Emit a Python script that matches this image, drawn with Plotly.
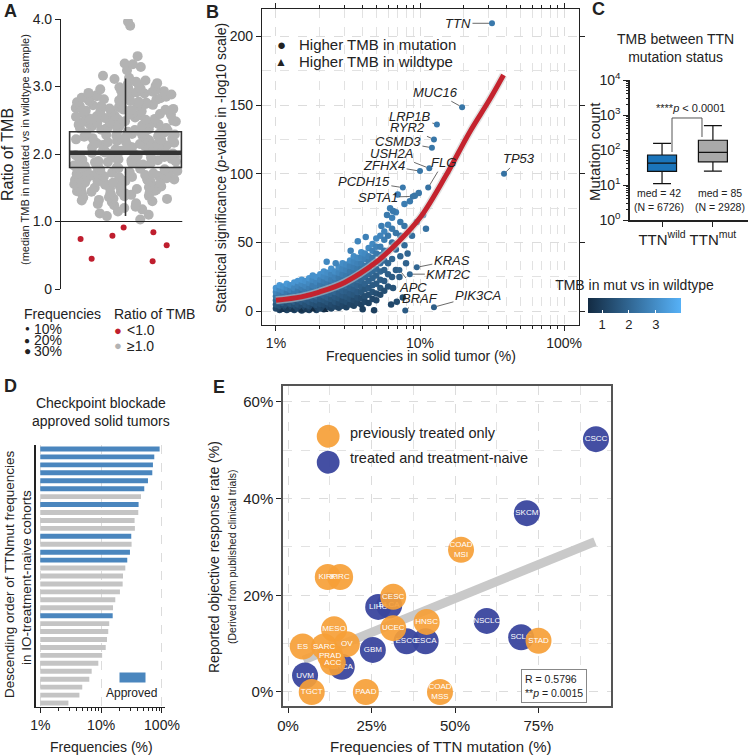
import numpy as np
import plotly.graph_objects as go

W, H = 754, 755
FONT = "Liberation Sans, Arial, sans-serif"
INK = "#222222"


def px(x):
    return x / W


def py(y):
    return 1 - y / H


# ---------------- Panel A data ----------------
a_gray_ratio = [
    1.03, 1.08, 1.10, 1.12, 1.15, 1.18, 1.20, 1.22, 1.24, 1.26, 1.27, 1.29,
    1.30, 1.31, 1.32, 1.335, 1.34, 1.355, 1.36, 1.375, 1.38, 1.395,
    1.40, 1.407, 1.415, 1.42, 1.428, 1.436, 1.44, 1.449, 1.455, 1.463, 1.47, 1.482, 1.491,
    1.501, 1.507, 1.514, 1.52, 1.527, 1.533, 1.541, 1.546, 1.553, 1.56, 1.566, 1.574, 1.58, 1.587, 1.594,
    1.602, 1.609, 1.615, 1.622, 1.628, 1.636, 1.641, 1.648, 1.655, 1.661, 1.669, 1.674, 1.682, 1.689, 1.695,
    1.703, 1.708, 1.716, 1.721, 1.729, 1.734, 1.742, 1.749, 1.754, 1.762, 1.767, 1.775, 1.781, 1.788, 1.796,
    1.804, 1.81, 1.817, 1.823, 1.83, 1.836, 1.843, 1.85, 1.856, 1.863, 1.869, 1.876, 1.882, 1.889, 1.897,
    1.902, 1.909, 1.915, 1.922, 1.928, 1.935, 1.941, 1.948, 1.955, 1.961, 1.968, 1.974, 1.981, 1.987, 1.994,
    2.003, 2.008, 2.016, 2.021, 2.029, 2.034, 2.042, 2.047, 2.055, 2.06, 2.068, 2.073, 2.081, 2.088, 2.095,
    2.101, 2.107, 2.114, 2.12, 2.127, 2.133, 2.14, 2.147, 2.153, 2.16, 2.166, 2.173, 2.18, 2.186, 2.193,
    2.204, 2.209, 2.217, 2.222, 2.23, 2.235, 2.243, 2.248, 2.256, 2.262, 2.269, 2.275, 2.282, 2.288, 2.296,
    2.302, 2.309, 2.315, 2.321, 2.328, 2.334, 2.341, 2.348, 2.354, 2.361, 2.367, 2.374, 2.38, 2.387, 2.393,
    2.403, 2.408, 2.416, 2.421, 2.429, 2.435, 2.442, 2.447, 2.455, 2.461, 2.468, 2.474, 2.481, 2.487, 2.495,
    2.501, 2.508, 2.514, 2.52, 2.527, 2.534, 2.54, 2.547, 2.553, 2.56, 2.567, 2.573, 2.58, 2.586, 2.593,
    2.603, 2.609, 2.616, 2.622, 2.629, 2.635, 2.642, 2.648, 2.655, 2.661, 2.668, 2.675, 2.681, 2.688, 2.694,
    2.702, 2.708, 2.715, 2.721, 2.728, 2.735, 2.741, 2.748, 2.754, 2.761, 2.767, 2.774, 2.781, 2.787, 2.794,
    2.803, 2.81, 2.818, 2.825, 2.833, 2.84, 2.848, 2.856, 2.864, 2.872, 2.881, 2.889, 2.897,
    2.905, 2.913, 2.922, 2.931, 2.94, 2.949, 2.958, 2.967, 2.978, 2.99,
    3.005, 3.02, 3.035, 3.05, 3.07, 3.09, 3.11, 3.13, 3.16,
    3.24, 3.29, 3.33, 3.34, 3.45, 3.90, 3.96,
]
a_red_ratio = [0.74, 0.79, 0.65, 0.45, 0.41, 0.91, 0.84]
a_q1, a_median, a_q3 = 1.80, 2.02, 2.33
a_lowerfence, a_upperfence = 1.08, 3.12
a_threshold = 1.0
a_tickvals = [0, 1, 2, 3, 4]
a_ticktext = ["0", "1.0", "2.0", "3.0", "4.0"]

# ---------------- Panel B data ----------------
b_col_freq = [1.0, 1.06, 1.12, 1.19, 1.26, 1.34, 1.42, 1.51, 1.6, 1.7, 1.8, 1.91, 2.03, 2.15, 2.28,
              2.42, 2.57, 2.73, 2.9, 3.08, 3.27, 3.47, 3.68, 3.91, 4.15, 4.4, 4.68, 4.97, 5.3, 5.65,
              6.0, 6.4, 6.8, 7.3, 7.8]
b_col_sig = [
    [2, 5, 8, 11, 14, 17],
    [1, 4, 7, 10, 13, 16, 19],
    [2.5, 6, 9, 12, 15, 18],
    [1, 4, 7.5, 10.5, 13.5, 17, 20],
    [2, 5.5, 9, 12, 15.5, 19],
    [1, 4, 7, 10.5, 14, 17, 21],
    [2, 5, 8.5, 12, 15, 18.5, 22],
    [0.5, 3.5, 7, 10, 13.5, 17, 20, 23],
    [2, 5, 8.5, 12, 15, 18.5, 22],
    [1, 4, 7, 10.5, 14, 17, 20.5, 24],
    [2.5, 6, 9, 12.5, 16, 19, 23, 26],
    [1, 4.5, 8, 11, 14.5, 18, 21.5, 25],
    [2, 5.5, 9, 12.5, 16, 19.5, 23, 27],
    [1.5, 5, 8, 11.5, 15, 18.5, 22, 25.5, 29],
    [3, 6.5, 10, 13.5, 17, 20.5, 24, 28],
    [2, 5, 9, 12.5, 16, 19.5, 23, 27, 31],
    [3.5, 7, 10.5, 14, 18, 21.5, 25, 29],
    [2.5, 6, 9.5, 13, 17, 20.5, 24.5, 28, 32],
    [4, 8, 11.5, 15, 19, 23, 27, 31, 35],
    [3, 7, 10.5, 14.5, 18.5, 22, 26, 30, 34],
    [5, 9, 13, 17, 21, 25, 29, 33, 37],
    [4, 8, 12, 16, 20, 24, 28, 32, 36, 40],
    [6, 10, 14, 18.5, 23, 27, 31, 35, 39],
    [5, 9.5, 14, 18, 22, 26.5, 31, 35, 39, 43],
    [7, 11, 16, 20, 25, 29, 33, 38, 42],
    [6, 12, 17, 22, 27, 31, 36, 40, 46],
    [9, 14, 19, 24, 29, 34, 39, 44, 49],
    [8, 13, 20, 26, 31, 36, 42, 47, 53],
    [12, 17, 23, 29, 35, 41, 47, 55],
    [15, 22, 30, 37, 44, 52, 58],
    [18, 27, 35, 44, 55, 63],
    [25, 38, 50, 60, 68],
    [30, 45, 57, 72],
    [40, 55, 65],
    [48, 62, 78],
]
b_col_ratio = [
    [1.2, 1.6, 2.0, 2.4, 2.8, 3.2],
    [1.1, 1.5, 1.9, 2.2, 2.6, 2.9, 3.3],
    [1.3, 1.7, 2.0, 2.4, 2.8, 3.1],
    [1.1, 1.4, 1.8, 2.2, 2.5, 2.9, 3.3],
    [1.2, 1.6, 2.0, 2.3, 2.7, 3.1],
    [1.1, 1.4, 1.8, 2.1, 2.5, 2.8, 3.2],
    [1.2, 1.5, 1.9, 2.2, 2.5, 2.8, 3.2],
    [1.0, 1.3, 1.7, 2.0, 2.3, 2.6, 2.9, 3.2],
    [1.2, 1.5, 1.8, 2.2, 2.5, 2.8, 3.1],
    [1.1, 1.4, 1.7, 2.0, 2.3, 2.6, 2.9, 3.2],
    [1.2, 1.5, 1.8, 2.1, 2.4, 2.6, 2.9, 3.1],
    [1.1, 1.4, 1.7, 2.0, 2.3, 2.6, 2.8, 3.1],
    [1.2, 1.4, 1.7, 2.0, 2.3, 2.5, 2.8, 3.1],
    [1.1, 1.3, 1.6, 1.9, 2.1, 2.4, 2.6, 2.9, 3.1],
    [1.2, 1.5, 1.8, 2.0, 2.3, 2.5, 2.8, 3.0],
    [1.1, 1.3, 1.6, 1.9, 2.1, 2.3, 2.6, 2.8, 3.1],
    [1.2, 1.5, 1.7, 2.0, 2.2, 2.5, 2.7, 3.0],
    [1.1, 1.3, 1.6, 1.8, 2.1, 2.3, 2.5, 2.8, 3.0],
    [1.2, 1.4, 1.7, 1.9, 2.1, 2.4, 2.6, 2.8, 3.0],
    [1.1, 1.4, 1.6, 1.8, 2.1, 2.3, 2.5, 2.7, 2.9],
    [1.2, 1.5, 1.7, 1.9, 2.1, 2.3, 2.5, 2.7, 3.0],
    [1.1, 1.3, 1.6, 1.8, 2.0, 2.2, 2.4, 2.6, 2.8, 3.0],
    [1.2, 1.4, 1.7, 1.9, 2.1, 2.3, 2.5, 2.7, 2.9],
    [1.1, 1.3, 1.6, 1.8, 2.0, 2.2, 2.4, 2.6, 2.8, 3.0],
    [1.2, 1.4, 1.6, 1.9, 2.1, 2.3, 2.5, 2.7, 2.9],
    [1.1, 1.4, 1.7, 1.9, 2.1, 2.3, 2.5, 2.7, 2.9],
    [1.2, 1.5, 1.7, 1.9, 2.1, 2.3, 2.5, 2.7, 2.9],
    [1.2, 1.4, 1.7, 1.9, 2.1, 2.3, 2.5, 2.7, 2.9],
    [1.3, 1.6, 1.8, 2.0, 2.2, 2.4, 2.6, 2.8],
    [1.4, 1.7, 1.9, 2.1, 2.4, 2.6, 2.8],
    [1.5, 1.8, 2.0, 2.3, 2.5, 2.7],
    [1.7, 2.0, 2.3, 2.5, 2.7],
    [1.8, 2.1, 2.4, 2.6],
    [2.0, 2.3, 2.5],
    [2.1, 2.4, 2.6],
]
b_out_freq = [2.25, 3.7, 4.2, 5.4, 6.2, 6.5, 8.5, 9.2, 9.8, 4.0, 4.8, 6.5, 6.9, 7.6, 8.2, 8.8,
              9.5, 10.5, 11.0, 7.0, 5.9, 6.3, 7.2, 8.0, 3.3, 2.6]
b_out_sig = [36, 51, 54, 62, 75, 73, 80, 84, 86, 1.5, 0.8, 17, 7, 10, 42, 55,
             65, 70, 60, 85, 70, 5, 25, 35, 44, 35]
b_out_ratio = [2.9, 2.8, 2.7, 2.6, 2.6, 2.5, 2.5, 2.4, 2.4, 1.0, 1.0, 1.5, 1.3, 1.4, 2.0, 2.2,
               2.3, 2.4, 2.3, 2.6, 2.5, 1.2, 1.8, 1.9, 2.7, 2.8]
b_tri_freq = [1.1, 1.3, 1.5, 1.8, 2.2, 1.2, 1.6]
b_tri_sig = [0.5, 0.8, 0.4, 1.0, 0.6, 1.2, 0.3]
b_tri_ratio = [0.74, 0.79, 0.65, 0.45, 0.41, 0.91, 0.84]

b_genes = ["TTN", "MUC16", "LRP1B", "RYR2", "CSMD3", "USH2A", "ZFHX4", "FLG", "PCDH15",
           "SPTA1", "TP53", "KRAS", "KMT2C", "APC", "BRAF", "PIK3CA"]
b_gene_freq = [31.6, 19.6, 13.1, 12.5, 12.1, 11.6, 10.0, 11.4, 7.6, 8.9, 38.3, 9.5, 8.5, 7.2, 7.9, 12.5]
b_gene_sig = [209.6, 148.5, 136, 125, 119, 104, 102, 90, 90, 83.6, 100, 32, 27, 30, 0.5, 3]
b_gene_ratio = [2.5, 2.4, 2.5, 2.4, 2.4, 2.4, 2.4, 2.3, 2.5, 2.4, 2.3, 2.0, 2.0, 1.9, 1.7, 1.8]
# label offsets (pixels, style only)
b_label_ax = [-34, -27, -27, -26, -34, -38, -36, 15, -39, -35, 15, 35, 39, 14, 15, 44]
b_label_ay = [0, -15, -8, -12, -6, -15, -6, -25, -6, 1, -15, -7, 0, 17, -12, -12]

b_fit_freq = [1.0, 1.5, 2.0, 3.0, 5.0, 7.0, 10.0, 15.0, 22.0, 30.0, 38.0]
b_fit_sig = [8, 10.5, 14, 21, 36, 50, 68, 98, 130, 153, 172]

b_tickvals = [1, 10, 100]
b_ticktext = ["1%", "10%", "100%"]
b_ratio_range = [0.48, 3.93]

# ---------------- Panel C data ----------------
c_groups = ["TTN<sup>wild</sup>", "TTN<sup>mut</sup>"]
c_q1 = [24.5, 46]
c_median = [42, 85]
c_q3 = [72, 190]
c_lower = [11, 25]
c_upper = [155, 500]
c_n = [6726, 2928]

# ---------------- Panel D data ----------------
d_freq = [91.6, 74.8, 71.1, 69.4, 58.9, 51.2, 45.2, 41.3, 40.8, 35.5, 35.9, 31.3, 31.7, 29.8,
          26.9, 25.0, 22.9, 22.6, 20.4, 17.1, 15.7, 15.5, 13.6, 13.1, 12.5, 11.9, 10.4, 9.0,
          7.0, 6.4, 4.9, 4.4, 2.9]
d_approved = [1, 1, 1, 1, 1, 1, 0, 1, 0, 0, 0, 1, 0, 1, 1, 0, 0, 0, 0, 0, 0, 1, 0, 0, 0, 0,
              0, 0, 0, 0, 0, 0, 0]
d_rank = list(range(len(d_freq)))
d_base = 1.0

# ---------------- Panel E data ----------------
e_names = ["CSCC", "SKCM", "LIHC", "BLCA", "ESCC", "ESCA", "NSCLC", "SCLC", "GBM", "BRCA", "UVM",
           "COAD<br>MSI", "KIRP", "KIRC", "CESC", "HNSC", "UCEC", "STAD", "MESO", "ES", "SARC",
           "OV", "PRAD", "ACC", "TGCT", "PAAD", "COAD<br>MSS"]
e_freq = [92.2, 71.5, 27.0, 30.3, 35.5, 41.2, 59.5, 69.8, 25.4, 16.1, 5.1,
          51.8, 11.9, 15.6, 31.5, 41.5, 31.5, 75.0, 13.8, 4.4, 10.8,
          17.6, 12.6, 13.4, 7.1, 23.3, 45.5]
e_orr = [52.3, 37.0, 17.6, 17.9, 10.5, 10.5, 14.7, 11.3, 8.7, 5.2, 3.4,
         29.4, 23.8, 23.8, 19.7, 14.5, 13.2, 10.6, 13.0, 9.4, 9.4,
         9.9, 7.5, 6.1, 0.0, 0.0, 0.0]
e_group = ["naive"] * 11 + ["treated"] * 16
e_fit_x = [4.6, 91.9]
e_fit_y = [6.6, 31.1]
e_r = 0.5796
e_p = 0.0015

# ---------------- Figure ----------------
fig = go.Figure()

# Panel A
A_W = 1.04
fig.add_trace(go.Box(y=a_gray_ratio, x0=0, xaxis="x", yaxis="y", boxpoints="all", jitter=0.93,
                     pointpos=0, width=A_W, fillcolor="rgba(0,0,0,0)",
                     line=dict(width=0, color="rgba(0,0,0,0)"), whiskerwidth=0,
                     marker=dict(color="#b3b3b3", size=10, line=dict(width=0)),
                     hoverinfo="skip"))
fig.add_trace(go.Box(y=a_red_ratio, x0=0, xaxis="x", yaxis="y", boxpoints="all", jitter=0.95,
                     pointpos=0, width=A_W, fillcolor="rgba(0,0,0,0)",
                     line=dict(width=0, color="rgba(0,0,0,0)"), whiskerwidth=0,
                     marker=dict(color="#bf1e2e", size=6, line=dict(width=0)),
                     hoverinfo="skip"))
fig.add_trace(go.Box(x=[0], q1=[a_q1], median=[a_median], q3=[a_q3], lowerfence=[a_lowerfence],
                     upperfence=[a_upperfence], xaxis="x", yaxis="y", width=A_W,
                     fillcolor="rgba(0,0,0,0)", line=dict(color="#333333", width=1.6),
                     whiskerwidth=0, boxpoints=False))
fig.add_trace(go.Scatter(x=[-A_W / 2, A_W / 2], y=[a_median, a_median], mode="lines",
                         line=dict(color="#333333", width=4.5), xaxis="x", yaxis="y"))

# Panel B
b_freq, b_sig, b_ratio = [], [], []
for f, sigs, rats in zip(b_col_freq, b_col_sig, b_col_ratio):
    for s, r in zip(sigs, rats):
        b_freq.append(f)
        b_sig.append(s)
        b_ratio.append(r)
b_freq += b_out_freq
b_sig += b_out_sig
b_ratio += b_out_ratio

fig.add_trace(go.Scatter(x=b_freq, y=b_sig, mode="markers", xaxis="x2", yaxis="y2",
                         marker=dict(color=b_ratio, coloraxis="coloraxis", size=6.5,
                                     line=dict(width=0))))
fig.add_trace(go.Scatter(x=b_tri_freq, y=b_tri_sig, mode="markers", xaxis="x2", yaxis="y2",
                         marker=dict(color=b_tri_ratio, coloraxis="coloraxis", size=6,
                                     symbol="triangle-up", line=dict(width=0))))
fig.add_trace(go.Scatter(x=b_gene_freq, y=b_gene_sig, mode="markers", xaxis="x2", yaxis="y2",
                         marker=dict(color=b_gene_ratio, coloraxis="coloraxis", size=6,
                                     line=dict(width=0))))
fig.add_trace(go.Scatter(x=b_fit_freq, y=b_fit_sig, mode="lines", xaxis="x2", yaxis="y2",
                         line=dict(color="rgba(200,200,200,0.55)", width=8, shape="spline")))
fig.add_trace(go.Scatter(x=b_fit_freq, y=b_fit_sig, mode="lines", xaxis="x2", yaxis="y2",
                         line=dict(color="#c4232e", width=5, shape="spline")))

# Panel C
c_colors = ["#1b75bb", "#a9a9a9"]
for i in range(2):
    fig.add_trace(go.Box(x=[c_groups[i]], q1=[c_q1[i]], median=[c_median[i]], q3=[c_q3[i]],
                         lowerfence=[c_lower[i]], upperfence=[c_upper[i]], xaxis="x3",
                         yaxis="y3", width=0.57, whiskerwidth=0.62, fillcolor=c_colors[i],
                         line=dict(color="#111111", width=1.2), boxpoints=False))

# Panel D
d_colors = ["#4a86be" if a else "#c4c4c4" for a in d_approved]
fig.add_trace(go.Bar(x=[f - d_base for f in d_freq], base=d_base, y=d_rank, orientation="h",
                     xaxis="x4", yaxis="y4", width=0.62,
                     marker=dict(color=d_colors, line=dict(width=0))))

# Panel E
fig.add_trace(go.Scatter(x=e_fit_x, y=e_fit_y, mode="lines", xaxis="x5", yaxis="y5",
                         line=dict(color="#c9c9c9", width=9)))
for grp, col in [("naive", "rgba(58,70,158,0.95)"), ("treated", "rgba(246,160,55,0.92)")]:
    idx = [i for i, g in enumerate(e_group) if g == grp]
    fig.add_trace(go.Scatter(x=[e_freq[i] for i in idx], y=[e_orr[i] for i in idx],
                             text=[e_names[i] for i in idx], mode="markers+text",
                             textposition="middle center", cliponaxis=False,
                             textfont=dict(color="white", size=8, family=FONT),
                             marker=dict(size=26, color=col, line=dict(width=0)),
                             xaxis="x5", yaxis="y5"))

# ---------------- Axes ----------------
tickfont = dict(size=14, color=INK, family=FONT)
base_ax = dict(ticks="outside", ticklen=5, tickwidth=1, tickcolor=INK, tickfont=tickfont,
               showline=True, linecolor=INK, linewidth=1.2, zeroline=False, showgrid=False)
grid = dict(showgrid=True, gridcolor="#dcdcdc", griddash="dash", gridwidth=1)

log_minor_1_100 = [2, 3, 4, 5, 6, 7, 8, 9, 20, 30, 40, 50, 60, 70, 80, 90]

layout = dict(
    width=W, height=H, margin=dict(l=0, r=0, t=0, b=0, autoexpand=False),
    paper_bgcolor="white", plot_bgcolor="white", showlegend=False,
    font=dict(family=FONT, color=INK), boxmode="overlay",
    xaxis=dict(domain=[px(61), px(190)], range=[-0.6, 0.6], visible=False),
    yaxis=dict(domain=[py(289), py(19)], range=[0, 4], tickvals=a_tickvals,
               ticktext=a_ticktext, **base_ax),
    xaxis2=dict(domain=[px(262), px(579)], type="log",
                range=[np.log10(0.8), np.log10(127)], tickvals=b_tickvals,
                ticktext=b_ticktext, mirror="allticks", anchor="y2",
                minor=dict(tickvals=log_minor_1_100, ticks="outside", ticklen=3,
                           tickcolor=INK, showgrid=True, gridcolor="#e2e2e2", griddash="dash"),
                **{**base_ax, **grid}),
    yaxis2=dict(domain=[py(325), py(9)], range=[-10, 220], tickvals=[0, 50, 100, 150, 200],
                mirror="ticks", anchor="x2",
                minor=dict(tickvals=[25, 75, 125, 175], ticks="", showgrid=True,
                           gridcolor="#e2e2e2", griddash="dash"),
                **{**base_ax, **grid}),
    xaxis3=dict(domain=[px(630), px(748)], range=[-0.63, 1.69], anchor="y3",
                **{**base_ax, "tickfont": dict(size=15, color=INK, family=FONT),
                   "linewidth": 1.5}),
    yaxis3=dict(domain=[py(220), py(80)], type="log", range=[0, 4], anchor="x3",
                tickvals=[1, 10, 100, 1000, 10000],
                ticktext=["10<sup>0</sup>", "10<sup>1</sup>", "10<sup>2</sup>",
                          "10<sup>3</sup>", "10<sup>4</sup>"],
                minor=dict(tickvals=[a * 10 ** k for k in range(4) for a in range(2, 10)],
                           ticks="outside", ticklen=2, tickcolor=INK),
                **{**base_ax, "tickfont": dict(size=14, color=INK, family=FONT),
                   "linewidth": 1.5}),
    xaxis4=dict(domain=[px(36), px(165)], type="log", range=[-0.07, 2.05], anchor="y4",
                tickvals=b_tickvals, ticktext=b_ticktext,
                minor=dict(tickvals=log_minor_1_100, ticks="outside", ticklen=3, tickcolor=INK),
                **{**base_ax, **grid}),
    yaxis4=dict(domain=[py(707), py(445)], range=[len(d_freq) - 0.5, -0.5], anchor="x4",
                showticklabels=False, ticks="", showline=True, linecolor=INK, linewidth=1.5,
                zeroline=False, showgrid=False),
    xaxis5=dict(domain=[px(283), px(611)], range=[-1.5, 96.7], anchor="y5",
                tickvals=[0, 25, 50, 75], ticktext=["0%", "25%", "50%", "75%"], mirror=True,
                minor=dict(tickvals=[12.5, 37.5, 62.5, 87.5], ticks="", showgrid=True,
                           gridcolor="#e2e2e2", griddash="dash"),
                **{**base_ax, **grid, "tickfont": dict(size=15, color=INK, family=FONT),
                   "linecolor": "#555555", "linewidth": 1.5}),
    yaxis5=dict(domain=[py(706), py(386)], range=[-2.9, 63.3], anchor="x5",
                tickvals=[0, 20, 40, 60], ticktext=["0%", "20%", "40%", "60%"], mirror=True,
                minor=dict(tickvals=[10, 30, 50], ticks="", showgrid=True,
                           gridcolor="#e2e2e2", griddash="dash"),
                **{**base_ax, **grid, "tickfont": dict(size=15, color=INK, family=FONT),
                   "linecolor": "#555555", "linewidth": 1.5}),
    coloraxis=dict(
        colorscale=[[0, "#132B43"], [1, "#56B1F7"]], cmin=b_ratio_range[0], cmax=b_ratio_range[1],
        colorbar=dict(orientation="h", x=px(588), xanchor="left", y=py(282), yanchor="top",
                      len=93, lenmode="pixels", thickness=15, thicknessmode="pixels",
                      tickvals=[1, 2, 3], ticks="inside", ticklen=3, tickcolor="white",
                      tickfont=dict(size=13, color=INK, family=FONT), outlinewidth=0,
                      xpad=0, ypad=0,
                      title=dict(text="TMB in mut vs in wildtype", side="top",
                                 font=dict(size=14, color=INK, family=FONT)))),
)
fig.update_layout(**layout)


def ann(text, x, y, size=14, xanchor="center", yanchor="middle", angle=0, color=INK, **kw):
    return dict(text=text, x=px(x), y=py(y), xref="paper", yref="paper", showarrow=False,
                font=dict(size=size, color=color, family=FONT), xanchor=xanchor,
                yanchor=yanchor, textangle=angle, **kw)


anns = [
    ann("<b>A</b>", 2, 11, 18, "left"),
    ann("<b>B</b>", 204, 12, 18, "left"),
    ann("<b>C</b>", 590, 9, 18, "left"),
    ann("<b>D</b>", 2, 386, 18, "left"),
    ann("<b>E</b>", 211, 387, 18, "left"),
    # A
    ann("Ratio of TMB", 8, 155, 16, angle=-90),
    ann("(median TMB in mutated vs in wildtype sample)", 25, 150, 11, angle=-90),
    ann("Frequencies", 22, 314, 14, "left"),
    ann("●", 27, 329, 8), ann("10%", 32, 329, 14, "left"),
    ann("●", 27, 340, 10), ann("20%", 32, 340, 14, "left"),
    ann("●", 27, 351, 12), ann("30%", 32, 351, 14, "left"),
    ann("Ratio of TMB", 112, 314, 14, "left"),
    ann("●", 118, 330, 13, color="#bf1e2e"), ann("<1.0", 125, 330, 14, "left"),
    ann("●", 118, 346, 13, color="#b3b3b3"), ann("≥1.0", 125, 346, 14, "left"),
    # B
    ann("Statistical significance (<i>p</i>-value in -log10 scale)", 221, 168, 14, angle=-90),
    ann("Frequencies in solid tumor (%)", 421, 356, 14),
    ann("●", 281, 44, 15), ann("Higher TMB in mutation", 297, 44, 15, "left"),
    ann("▲", 281, 62, 12), ann("Higher TMB in wildtype", 297, 62, 15, "left"),
    # C
    ann("TMB between TTN<br>mutation status", 675, 48, 14),
    ann("Mutation count", 594, 152, 15, angle=-90),
    ann("****<i>p</i> < 0.0001", 690, 108, 11),
    ann("med = %d" % c_median[0], 659, 193, 10.5),
    ann("(N = %d)" % c_n[0], 659, 207, 10.5),
    ann("med = %d" % c_median[1], 720, 193, 10.5),
    ann("(N = %d)" % c_n[1], 720, 207, 10.5),
    # D
    ann("Checkpoint blockade<br>approved solid tumors", 101, 412, 14),
    ann("Descending order of TTNmut frequencies", 9, 574, 13.5, angle=-90),
    ann("in IO-treatment-naive cohorts", 26, 578, 13.5, angle=-90),
    ann("Frequencies (%)", 101, 747, 14),
    ann(" ", 132, 677, 6, bgcolor="#4a86be", width=25, height=9, borderpad=0),
    ann("Approved", 131, 693, 12),
    # E
    ann("Reported objective response rate (%)", 214, 557, 14, angle=-90),
    ann("(Derived from published clinical trials)", 232, 557, 10.5, angle=-90),
    ann("Frequencies of TTN mutation (%)", 440, 746, 15),
    ann("●", 328, 433, 53, color="rgba(246,160,55,0.92)"),
    ann("previously treated only", 348, 433, 14.5, "left"),
    ann("●", 328, 458, 53, color="rgba(58,70,158,0.95)"),
    ann("treated and treatment-naive", 348, 458, 14.5, "left"),
    ann("R = %.4f<br>**<i>p</i> = %.4f" % (e_r, e_p), 521, 669, 10.5, "left", "top",
        align="left", bordercolor="#888888", borderwidth=1, borderpad=3, bgcolor="white"),
]

# gene labels in B
for g, f, s, axo, ayo in zip(b_genes, b_gene_freq, b_gene_sig, b_label_ax, b_label_ay):
    anns.append(dict(text="<i>%s</i>" % g, x=np.log10(f), y=s, xref="x2", yref="y2",
                     showarrow=True, arrowhead=0, arrowwidth=0.8, arrowcolor="#444444",
                     ax=axo, ay=ayo, standoff=3,
                     font=dict(size=13, color=INK, family=FONT)))

fig.update_layout(annotations=anns)

# reference line in A and bracket in C
shapes = [
    dict(type="line", xref="x domain", yref="y", x0=0, x1=0.94, y0=a_threshold, y1=a_threshold,
         line=dict(color=INK, width=1.2)),
    dict(type="path", xref="paper", yref="paper",
         path="M %f %f L %f %f L %f %f L %f %f" % (px(672), py(152), px(672), py(118),
                                                    px(702), py(118), px(702), py(137)),
         line=dict(color="#555555", width=1)),
]
fig.update_layout(shapes=shapes)

fig.write_html("out.html", config={"displayModeBar": False},
               post_script="document.body.style.margin='0px';"
                           "document.body.style.overflow='hidden';")
